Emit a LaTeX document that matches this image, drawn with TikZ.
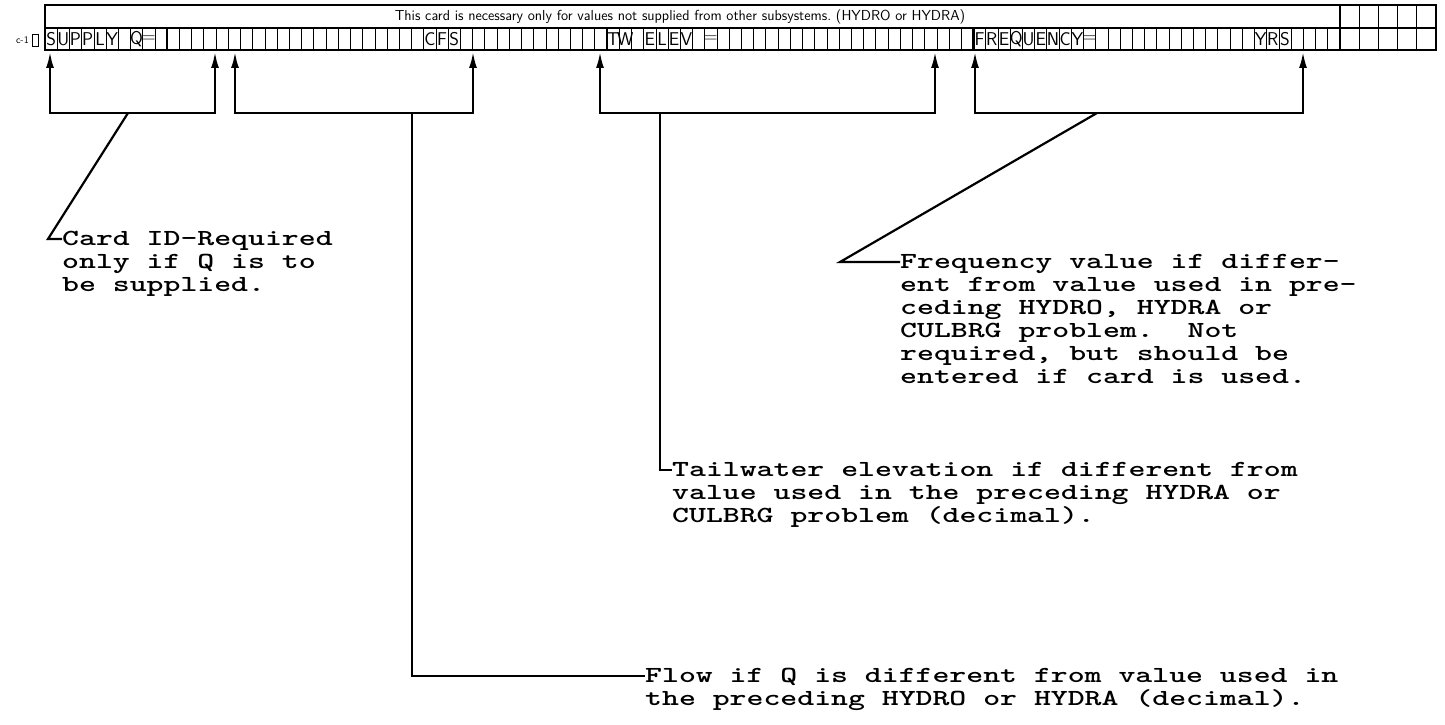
\documentclass[tikz,border=0pt]{standalone}
\usepackage{fontspec}
\newfontfamily\typewr[FakeStretch=1.4]{lmmonolt10-bold.otf}
\usepackage{tikz}
\usetikzlibrary{arrows.meta,positioning,calc}
\frenchspacing

\begin{document}
\begin{tikzpicture}[
  x=1pt,y=-1pt,
  frame/.style={line width=2pt},
  cell/.style={line width=0.7pt},
  sep/.style={line width=2.4pt},
  cardch/.style={font=\sffamily\fontsize{18.5}{18.5}\selectfont,inner sep=0pt},
  note/.style={font=\typewr\fontsize{23}{23}\selectfont,align=left,inner sep=0pt,anchor=north west},
  brk/.style={{Latex[length=16pt,width=8pt]}-{Latex[length=16pt,width=8pt]},line width=2.2pt},
  lead/.style={line width=2.2pt}
]
  \fill[white] (0,0) rectangle (1445,725);
  \useasboundingbox (0,0) rectangle (1445,725);
  \pgfmathsetmacro{\cw}{(1340-45)/106}

  % the card
  \foreach \k in {1,...,105}
    \draw[cell] ({45+\k*\cw},28) -- ({45+\k*\cw},50);
  \foreach \k in {1,...,4}
    \draw[cell] ({1340+\k*19.2},5) -- ({1340+\k*19.2},50);
  \draw[cell,line width=1.2pt] (45,28) -- (1436,28);
  \foreach \k in {10,46,76,106}
    \draw[sep] ({45+\k*\cw},28) -- ({45+\k*\cw},50);
  \draw[sep] (1340,5) -- (1340,28);
  \draw[frame] (45,5) rectangle (1436,50);
  \node[font=\sffamily\fontsize{14.5}{14.5}\selectfont,inner sep=0pt] (head) at (680,17)
    {This card is necessary only for values not supplied from other subsystems. (HYDRO or HYDRA)};
  \node[font=\sffamily\fontsize{10}{10}\selectfont,inner sep=0pt,anchor=east] (cid) at (29,40) {c-1};
  \draw[line width=0.8pt] (32,34) rectangle (38,46);
  \foreach \col/\ltr in {1/S,2/U,3/P,4/P,5/L,6/Y,8/Q,9/=,32/C,33/F,34/S,
      47/T,48/W,50/E,51/L,52/E,53/V,55/=,
      77/F,78/R,79/E,80/Q,81/U,82/E,83/N,84/C,85/Y,86/=,100/Y,101/R,102/S}
    \node[cardch] (ch\col) at ({45+(\col-0.5)*\cw},39.5) {\ltr};

  % arrow brackets under the card
  \foreach \a/\b/\n in {50/215/1,235/473/2,600/935/3,975/1303/4}{
    \coordinate (ta\n) at (\a,52);
    \coordinate (tb\n) at (\b,52);
    \draw[brk] (ta\n) -- ++(0,61) -| (tb\n);
  }
  \coordinate (m1) at (128,113);
  \coordinate (m2) at (412,113);
  \coordinate (m3) at (660,113);
  \coordinate (m4) at (1097,113);

  % notes
  \node[note] (cardnote) at (62,231) {Card ID-Required\\only if Q is to\\be supplied.};
  \node[note] (freqnote) at (900,254) {Frequency value if differ-\\ent from value used in pre-\\ceding HYDRO, HYDRA or\\CULBRG problem.\ \ Not\\required, but should be\\entered if card is used.};
  \node[note] (tailnote) at (672,462) {Tailwater elevation if different from\\value used in the preceding HYDRA or\\CULBRG problem (decimal).};
  \node[note] (flownote) at (645,668) {Flow if Q is different from value used in\\the preceding HYDRO or HYDRA (decimal).};

  \coordinate (h1) at (48,239);
  \coordinate (h2) at (412,676);
  \coordinate (h3) at (660,470);
  \coordinate (h4) at (840,262);
  \draw[lead] (m1) -- (h1) -- (h1 -| cardnote.west);
  \draw[lead] (m2) -- (h2) -- (h2 -| flownote.west);
  \draw[lead] (m3) -- (h3) -- (h3 -| tailnote.west);
  \draw[lead] (m4) -- (h4) -- (h4 -| freqnote.west);
\end{tikzpicture}
\end{document}
